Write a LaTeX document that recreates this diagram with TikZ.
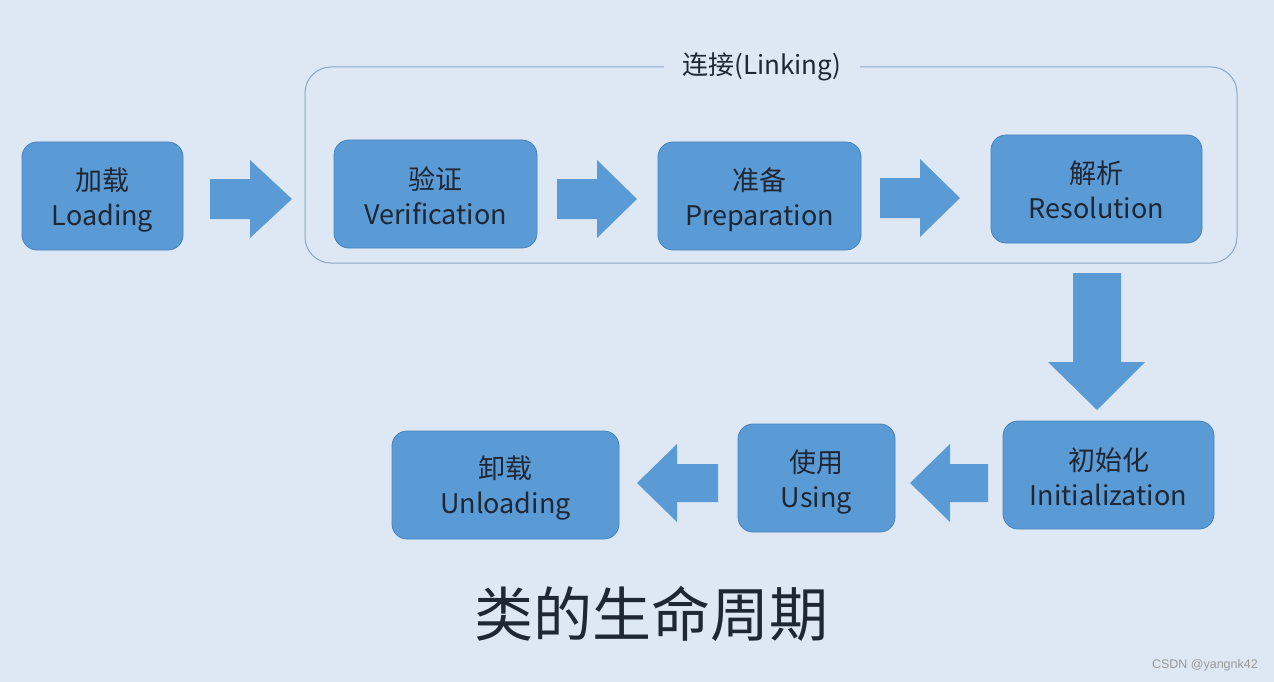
\documentclass[tikz,border=0pt]{standalone}
\usepackage{fontspec}
\setmainfont{Noto Sans CJK SC}
\newfontfamily\wmfont{Liberation Sans}
\definecolor{bgc}{HTML}{DDE8F4}
\definecolor{boxc}{HTML}{5B9BD5}
\definecolor{boxb}{HTML}{4A82BC}
\definecolor{framec}{HTML}{8DA6C2}
\definecolor{txtc}{HTML}{1E2733}
\begin{document}
\begin{tikzpicture}[x=1pt,y=-1pt,
  stage/.style={draw=boxb, line width=0.8pt, fill=boxc, rounded corners=15pt, minimum height=108pt, inner sep=0pt},
  stagetext/.style={align=center, text=txtc, font=\fontsize{27}{35}\selectfont, inner sep=0pt},
  blockarrow/.style={fill=boxc, draw=none}]
\fill[bgc] (0,0) rectangle (1274,682);
\useasboundingbox (0,0) rectangle (1274,682);
% Linking frame
\draw[framec, line width=1pt, rounded corners=26pt] (305,67) rectangle (1237,263);
\node[fill=bgc, text=txtc, font=\fontsize{26}{30}\selectfont, inner xsep=18pt, inner ysep=4pt] (linking) at (762,67) {连接(Linking)};
% stages
\node[stage, minimum width=161pt] (load) at (102.5,196) {};
\node[stage, minimum width=203pt] (verif) at (435.5,194) {};
\node[stage, minimum width=203pt] (prep) at (759.5,196) {};
\node[stage, minimum width=211pt] (resol) at (1096.5,189) {};
\node[stage, minimum width=211pt] (init) at (1108.5,475) {};
\node[stage, minimum width=157pt] (using) at (816.5,478) {};
\node[stage, minimum width=227pt] (unload) at (505.5,485) {};
\node[stagetext] (loadtext) at ([yshift=-4pt]load.center) {加载\\Loading};
\node[stagetext] (veriftext) at ([yshift=-2pt]verif.center) {验证\\Verification};
\node[stagetext] (preptext) at ([yshift=-4pt]prep.center) {准备\\Preparation};
\node[stagetext] (resoltext) at ([yshift=-1pt]resol.center) {解析\\Resolution};
\node[stagetext] (inittext) at ([yshift=-2pt]init.center) {初始化\\Initialization};
\node[stagetext] (usingtext) at ([yshift=-4pt]using.center) {使用\\Using};
\node[stagetext] (unloadtext) at ([yshift=-3pt]unload.center) {卸载\\Unloading};
% block arrows (right)
\fill[blockarrow] (210,179) -- (250,179) -- (250,160) -- (292,199) -- (250,238) -- (250,219) -- (210,219) -- cycle;
\fill[blockarrow] (557,179) -- (597,179) -- (597,160) -- (637,199) -- (597,238) -- (597,219) -- (557,219) -- cycle;
\fill[blockarrow] (880,178) -- (920,178) -- (920,159) -- (960,198) -- (920,237) -- (920,218) -- (880,218) -- cycle;
% down arrow
\fill[blockarrow] (1073,273) -- (1121,273) -- (1121,362) -- (1145,362) -- (1097,410) -- (1048,362) -- (1073,362) -- cycle;
% left arrows
\fill[blockarrow] (988,464) -- (950,464) -- (950,444) -- (910,483) -- (950,522) -- (950,502) -- (988,502) -- cycle;
\fill[blockarrow] (718,464) -- (677,464) -- (677,444) -- (637,483) -- (677,522) -- (677,502) -- (718,502) -- cycle;
% title
\node[text=txtc, font=\fontsize{59}{62}\selectfont, inner sep=0pt] (title) at (651,614) {类的生命周期};
% watermark
\node[text=gray!80, font=\wmfont\fontsize{12.5}{14}\selectfont, anchor=east, inner sep=0pt] (wm) at (1258,665) {CSDN @yangnk42};
\end{tikzpicture}
\end{document}
